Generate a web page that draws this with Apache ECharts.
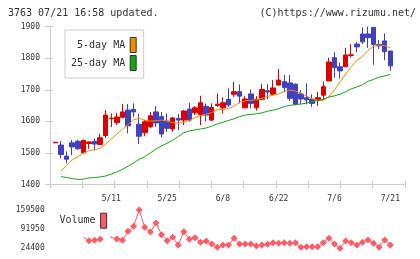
<!DOCTYPE html>
<html><head><meta charset="utf-8">
<script src="https://cdn.jsdelivr.net/npm/echarts@6/dist/echarts.min.js"></script>
<style>html,body{margin:0;padding:0;background:#fff}#c{width:420px;height:259px}</style>
</head><body><div id="c"></div>
<script>
const dates = ['4/24','4/25','4/26','4/27','4/28','5/1','5/2','5/8','5/9','5/10','5/11','5/12','5/15','5/16','5/17','5/18','5/19','5/22','5/23','5/24','5/25','5/26','5/29','5/30','5/31','6/1','6/2','6/5','6/6','6/7','6/8','6/9','6/12','6/13','6/14','6/15','6/16','6/19','6/20','6/21','6/22','6/23','6/26','6/27','6/28','6/29','6/30','7/3','7/4','7/5','7/6','7/7','7/10','7/11','7/12','7/13','7/14','7/18','7/19','7/20','7/21'];
const xLabels = ['5/11','5/25','6/8','6/22','7/6','7/21'];
const priceTicks = [1400,1500,1600,1700,1800,1900];
const volumeTicks = [24400,91950,159500];
const opens  = [1532,1525,1490,1532,1537,1500,1530,1537,1527,1555,1608,1596,1613,1636,1638,1591,1564,1583,1630,1615,1601,1576,1609,1604,1639,1627,1622,1648,1604,1650,1643,1670,1686,1694,1643,1687,1643,1670,1697,1686,1715,1726,1722,1718,1687,1675,1671,1668,1683,1728,1802,1773,1773,1809,1845,1877,1877,1898,1844,1855,1823];
const closes = [1534,1495,1480,1519,1513,1540,1535,1528,1548,1620,1610,1614,1630,1586,1630,1553,1599,1618,1595,1560,1578,1611,1604,1633,1604,1643,1659,1620,1644,1654,1659,1652,1694,1680,1671,1657,1670,1701,1693,1706,1731,1707,1673,1654,1671,1668,1657,1675,1710,1788,1770,1760,1810,1811,1836,1852,1865,1844,1839,1821,1776];
const lows   = [1532,1483,1467,1493,1510,1500,1513,1508,1525,1548,1582,1588,1610,1562,1614,1528,1553,1578,1583,1549,1567,1567,1572,1588,1599,1620,1588,1599,1601,1646,1625,1646,1678,1657,1641,1641,1634,1667,1670,1683,1715,1694,1665,1651,1654,1654,1646,1649,1668,1728,1738,1736,1773,1802,1819,1845,1833,1779,1829,1794,1760];
const highs  = [1534,1537,1505,1541,1542,1542,1537,1546,1561,1636,1625,1627,1655,1655,1657,1623,1604,1630,1648,1630,1625,1614,1623,1636,1659,1648,1681,1657,1657,1689,1676,1705,1725,1717,1681,1701,1680,1718,1718,1731,1766,1747,1747,1720,1699,1720,1686,1694,1726,1802,1819,1786,1833,1845,1852,1898,1900,1898,1858,1879,1823];
const ma5  = [null,1442,1462,1478,1488,1500,1507,1510,1515,1528,1545,1560,1575,1590,1605,1610,1604,1601,1602,1604,1601,1596,1595,1596,1603,1612,1618,1622,1628,1637,1638,1640,1649,1660,1665,1667,1668,1673,1679,1683,1687,1695,1699,1696,1690,1680,1671,1667,1667,1679,1700,1725,1750,1773,1793,1806,1825,1838,1842,1840,1833];
const ma25 = [null,1425,1422,1419,1416,1417,1421,1422,1424,1427,1433,1440,1448,1458,1468,1480,1488,1500,1512,1522,1531,1540,1552,1564,1570,1573,1576,1579,1585,1592,1597,1603,1608,1615,1620,1622,1624,1627,1632,1636,1640,1647,1651,1653,1655,1658,1662,1666,1670,1677,1681,1686,1694,1703,1709,1716,1727,1733,1740,1744,1749];
const volumes = [null,null,null,null,null,63200,51200,52600,56100,null,63200,57200,52600,84400,102000,159500,98500,81900,113600,72400,51200,63200,36000,83000,56100,61800,45600,50100,39600,27900,36000,36000,59700,39600,39600,39600,32500,36000,38500,44200,42000,44200,42000,44200,27900,30000,30000,30000,44200,59700,39600,24400,50100,44200,36000,45600,53700,42000,27900,53700,36000];

const RED = '#dd0000', BLUE = '#4040c0', ORANGE = '#f08c00', GREEN = '#14a514', VOL = '#ff5a66', AX = '#cccccc';
const FONT = 'DejaVu Sans Mono';

const candleData = dates.map((d, i) => [opens[i], closes[i], lows[i], highs[i]]);
const volData = volumes.map((v, i) => {
  if (i === 5) return { value: v, symbolSize: 0 };
  if (i === 10) return { value: v, symbolSize: 2 };
  return v;
});

const TOP = 26.7, H = 157.8;
const chart = echarts.init(document.getElementById('c'), null, { renderer: 'canvas' });
chart.setOption({
  animation: false,
  backgroundColor: '#fff',
  graphic: [
    { type: 'text', left: 8, top: 8, style: { text: '3763 07/21 16:58 updated.', font: '10px ' + FONT, fill: '#333' } },
    { type: 'text', right: 4, top: 8, style: { text: '(C)https://www.rizumu.net/', font: '10px ' + FONT, fill: '#333' } }
  ],
  legend: [
    { data: ['5-day MA', '25-day MA'], orient: 'vertical', left: 65, top: 30, align: 'right',
      itemWidth: 6, itemHeight: 15, itemGap: 2, padding: [7, 7, 7, 6], icon: 'rect',
      backgroundColor: '#fff', borderColor: AX, borderWidth: 1, selectedMode: false,
      formatter: n => n.padStart(9, ' '),
      itemStyle: { borderColor: '#333', borderWidth: 1 },
      textStyle: { fontFamily: FONT, fontSize: 10, color: '#333' } },
    { data: ['Volume'], left: 59.5, top: 212.7, align: 'right', itemWidth: 6, itemHeight: 15, padding: 0,
      icon: 'rect', selectedMode: false,
      itemStyle: { borderColor: '#333', borderWidth: 1 },
      textStyle: { fontFamily: FONT, fontSize: 10, color: '#333' } }
  ],
  grid: [
    { left: 52.7, top: TOP, width: 340.4, height: H },
    { left: 50, top: TOP, width: 355, height: H },
    { left: 50, top: TOP, width: 355, height: H },
    { left: 52.7, top: 210, width: 340.4, height: 38.3 }
  ],
  xAxis: [
    { gridIndex: 0, type: 'category', data: dates, boundaryGap: true,
      axisLine: { show: false }, axisTick: { show: false },
      axisLabel: { interval: (i, v) => xLabels.includes(v), margin: 10, fontFamily: FONT, fontSize: 8, color: '#333' } },
    { gridIndex: 1, type: 'value', min: 0, max: 11, interval: 1,
      axisLine: { lineStyle: { color: AX } }, axisTick: { length: 4, lineStyle: { color: AX } },
      axisLabel: { show: false }, splitLine: { show: false } },
    { gridIndex: 2, type: 'value', min: 0, max: 11, interval: 1,
      axisLine: { show: false }, axisTick: { inside: true, length: 4, lineStyle: { color: AX } },
      axisLabel: { show: false }, splitLine: { show: false } },
    { gridIndex: 3, type: 'category', data: dates, boundaryGap: true, show: false }
  ],
  yAxis: [
    { gridIndex: 0, type: 'value', min: 1400, max: 1900, show: false, splitLine: { show: false } },
    { gridIndex: 1, type: 'value', min: 1400, max: 1900, interval: 100,
      axisLine: { show: true, lineStyle: { color: AX } }, axisTick: { show: true, length: 5, lineStyle: { color: AX } },
      axisLabel: { margin: 10, formatter: v => priceTicks.includes(v) ? String(v) : '', fontFamily: FONT, fontSize: 8, color: '#333' },
      splitLine: { show: false } },
    { gridIndex: 2, type: 'value', min: 1400, max: 1900, interval: 100,
      axisLine: { show: false }, axisTick: { show: true, inside: true, length: 3, lineStyle: { color: AX } },
      axisLabel: { show: false }, splitLine: { show: false } },
    { gridIndex: 3, type: 'value', min: 24400, max: 159500,
      axisLine: { show: false }, axisTick: { show: false }, splitLine: { show: false },
      axisLabel: { customValues: volumeTicks, margin: 8, formatter: v => String(v), fontFamily: FONT, fontSize: 8, color: '#333' } }
  ],
  series: [
    { name: 'price', type: 'candlestick', xAxisIndex: 0, yAxisIndex: 0, data: candleData, barWidth: 5, clip: false,
      itemStyle: { color: RED, color0: BLUE, borderColor: RED, borderColor0: BLUE, borderWidth: 1 } },
    { name: '5-day MA', type: 'line', xAxisIndex: 0, yAxisIndex: 0, data: ma5, showSymbol: false, symbol: 'none',
      lineStyle: { color: ORANGE, width: 1 }, itemStyle: { color: ORANGE } },
    { name: '25-day MA', type: 'line', xAxisIndex: 0, yAxisIndex: 0, data: ma25, showSymbol: false, symbol: 'none',
      lineStyle: { color: GREEN, width: 1 }, itemStyle: { color: GREEN } },
    { name: 'Volume', type: 'line', xAxisIndex: 3, yAxisIndex: 3, data: volData, symbol: 'diamond', symbolSize: 7,
      showSymbol: true, showAllSymbol: true,
      connectNulls: false, lineStyle: { color: VOL, width: 1 }, itemStyle: { color: VOL } }
  ]
});
</script></body></html>
